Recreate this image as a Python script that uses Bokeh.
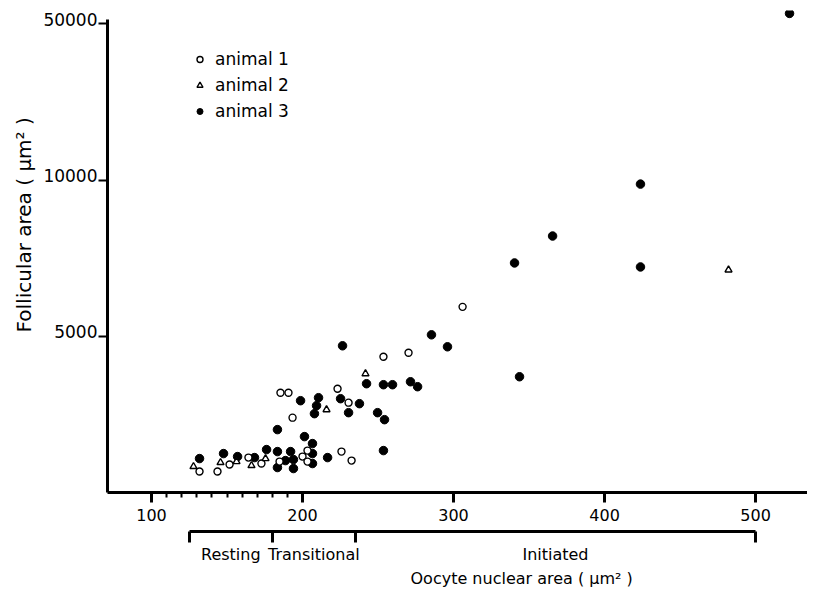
from bokeh.plotting import figure
from bokeh.models import Range1d, FixedTicker, LinearAxis, Legend, LegendItem, Title
from bokeh.embed import file_html
from bokeh.resources import INLINE

FONT = "DejaVu Sans"

# ---- data ----
a1_x = [131.8, 143.7, 151.7, 164.2, 172.8, 184.8, 185.4, 190.7, 193.4, 200.0,
        203.3, 203.3, 223.2, 230.5, 225.8, 232.5, 253.6, 270.2, 306.0]
a1_y = [671, 671, 895, 1118, 927, 990, 3195, 3195, 2396, 1150,
        1342, 990, 3323, 2876, 1310, 1022, 4345, 4473, 5943]

a2_x = [127.8, 145.7, 156.3, 166.2, 175.5, 215.9, 241.7, 482.1]
a2_y = [831, 959, 990, 863, 1086, 2652, 3802, 7125]

a3_x = [131.8, 147.7, 157.0, 168.2, 176.2, 183.4, 183.4, 183.4, 188.7, 192.1,
        194.0, 194.0, 198.7, 201.3, 206.6, 206.6, 206.6, 207.9, 209.3, 210.6,
        216.6, 226.5, 225.2, 230.5, 237.7, 242.4, 249.7, 254.3, 253.6, 259.6,
        253.6, 271.5, 276.2, 285.4, 296.0, 343.7, 340.4, 365.6, 423.8, 423.8,
        522.5]
a3_y = [1086, 1246, 1150, 1118, 1374, 2013, 1310, 799, 1022, 1310,
        1054, 767, 2939, 1789, 1566, 1246, 927, 2524, 2780, 3035,
        1118, 4697, 3003, 2556, 2844, 3483, 2556, 2332, 3451, 3451,
        1342, 3546, 3387, 5048, 4665, 3706, 7349, 8211, 7221, 9873,
        52700]

series_labels = ["animal 1", "animal 2", "animal 3"]

x_ticks = [100, 200, 300, 400, 500]
x_minor = [110, 120, 130, 140, 150, 160, 170, 180, 190]
y_ticks = [5000, 10000, 50000]

stage_bounds = [125, 180, 235, 500]
stage_names = ["Resting", "Transitional", "Initiated"]

x_title = "Oocyte nuclear area ( \u03bcm\u00b2 )"
y_title = "Follicular area ( \u03bcm\u00b2 )"

# broken y scale: linear up to 10000, compressed above
BREAK = 10000
COMPRESS = 8
LABEL_LIFT = 150  # tick labels sit just above their tick mark


def fold(v):
    return v if v <= BREAK else BREAK + (v - BREAK) / COMPRESS


p = figure(width=807, height=587,
           x_range=Range1d(70.86, 534.4), y_range=Range1d(0, 15431),
           output_backend="svg", toolbar_location=None,
           x_axis_location=None, y_axis_location=None,
           min_border_left=107, min_border_right=0,
           min_border_top=10, min_border_bottom=94)
p.outline_line_color = None
p.background_fill_color = "white"
p.border_fill_color = "white"
p.grid.grid_line_color = None

# ---- x axis ----
xa = LinearAxis(ticker=FixedTicker(ticks=x_ticks, minor_ticks=x_minor),
                axis_line_width=3, axis_line_color="black",
                major_tick_out=10, major_tick_in=0, major_tick_line_width=3,
                minor_tick_out=5, minor_tick_in=0, minor_tick_line_width=2,
                major_label_standoff=6,
                major_label_text_font=FONT, major_label_text_font_size="16px",
                major_label_text_color="black",
                axis_label=" ", axis_label_text_font_size="4px",
                axis_label_standoff=0)
p.add_layout(xa, "below")

# ---- stage bracket ----
mids = [(stage_bounds[i] + stage_bounds[i + 1]) / 2 for i in range(len(stage_names))]
ba = LinearAxis(ticker=FixedTicker(ticks=mids, minor_ticks=stage_bounds),
                bounds=(stage_bounds[0], stage_bounds[-1]),
                major_label_overrides={m: n for m, n in zip(mids, stage_names)},
                axis_line_width=3, axis_line_color="black",
                major_tick_line_color=None, major_tick_out=11, major_tick_in=0,
                minor_tick_out=11, minor_tick_in=0, minor_tick_line_width=3,
                minor_tick_line_color="black",
                major_label_standoff=2,
                major_label_text_font=FONT, major_label_text_font_size="16px",
                major_label_text_color="black")
p.add_layout(ba, "below")

# ---- x title ----
p.add_layout(Title(text=x_title, align="left", offset=303, standoff=0,
                   text_font=FONT, text_font_size="16px",
                   text_font_style="normal", text_color="black"), "below")

# ---- y axis: visible ticks are minor ticks, labels sit on (hidden) majors ----
y_pos = [fold(v) for v in y_ticks]
y_lab_pos = [v + LABEL_LIFT for v in y_pos]
ya = LinearAxis(ticker=FixedTicker(ticks=y_lab_pos, minor_ticks=y_pos),
                major_label_overrides={lp: str(v) for lp, v in zip(y_lab_pos, y_ticks)},
                bounds=(0, y_lab_pos[-1]),
                axis_line_width=3, axis_line_color="black",
                major_tick_out=9, major_tick_in=0, major_tick_line_color=None,
                minor_tick_out=9, minor_tick_in=0, minor_tick_line_width=2,
                minor_tick_line_color="black",
                major_label_standoff=1,
                major_label_text_font=FONT, major_label_text_font_size="17px",
                major_label_text_color="black")
p.add_layout(ya, "left")

# ---- y title ----
p.add_layout(Title(text=y_title, align="left", offset=160, standoff=10,
                   text_font=FONT, text_font_size="20px",
                   text_font_style="normal", text_color="black"), "left")

# ---- points ----
r3 = p.scatter(a3_x, [fold(v) for v in a3_y], marker="circle", size=8.5,
               fill_color="black", line_color="black", line_width=1)
r1 = p.scatter(a1_x, [fold(v) for v in a1_y], marker="circle", size=7,
               fill_color="white", line_color="black", line_width=1.4)
r2 = p.scatter(a2_x, [fold(v) for v in a2_y], marker="triangle", size=7,
               fill_color="white", line_color="black", line_width=1.4)

legend = Legend(items=[LegendItem(label=series_labels[0], renderers=[r1]),
                       LegendItem(label=series_labels[1], renderers=[r2]),
                       LegendItem(label=series_labels[2], renderers=[r3])],
                location=(85, 371), border_line_color=None,
                background_fill_alpha=0, padding=0, margin=0,
                glyph_width=15, glyph_height=20, label_height=20, spacing=6,
                label_standoff=8, label_text_font=FONT,
                label_text_font_size="17px", label_text_color="black")
p.add_layout(legend)

open("out.html", "w").write(file_html(p, INLINE))
